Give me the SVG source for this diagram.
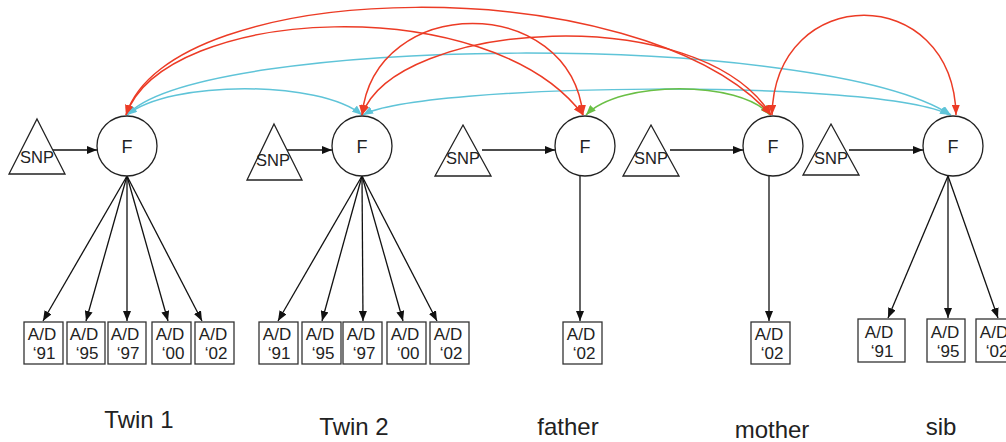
<svg xmlns="http://www.w3.org/2000/svg" width="1006" height="442" viewBox="0 0 1006 442">
<style>
.snp{fill:#fff;stroke:#222;stroke-width:1.3}
.f{fill:#fff;stroke:#222;stroke-width:1.3}
.box{fill:#fff;stroke:#333;stroke-width:1.3}
.t{font-family:"Liberation Sans",Arial,sans-serif;fill:#222;text-anchor:middle}
.ts{font-size:16.5px}
.tf{font-size:18px}
.tb{font-size:17px}
.tl{font-size:24px}
.blk{fill:none;stroke:#111;stroke-width:1.3;marker-end:url(#ab)}
.red{fill:none;stroke:#ec3b25;stroke-width:1.5;marker-start:url(#ar);marker-end:url(#ar)}
.cy{fill:none;stroke:#5fc4d8;stroke-width:1.5;marker-start:url(#ac);marker-end:url(#ac)}
.gr{fill:none;stroke:#6abf45;stroke-width:1.5;marker-start:url(#ag);marker-end:url(#ag)}
</style>
<defs>
<marker id="ab" markerUnits="userSpaceOnUse" markerWidth="10" markerHeight="8" refX="10" refY="4" orient="auto"><path d="M0,0 L10,4 L0,8 z" fill="#111"/></marker>
<marker id="ar" markerUnits="userSpaceOnUse" markerWidth="10" markerHeight="8" refX="10" refY="4" orient="auto-start-reverse"><path d="M0,0 L10,4 L0,8 z" fill="#ec3b25"/></marker>
<marker id="ac" markerUnits="userSpaceOnUse" markerWidth="10" markerHeight="8" refX="10" refY="4" orient="auto-start-reverse"><path d="M0,0 L10,4 L0,8 z" fill="#5fc4d8"/></marker>
<marker id="ag" markerUnits="userSpaceOnUse" markerWidth="10" markerHeight="8" refX="10" refY="4" orient="auto-start-reverse"><path d="M0,0 L10,4 L0,8 z" fill="#6abf45"/></marker>
</defs>
<rect width="1006" height="442" fill="#fff"/>

<g id="connectors">
<path class="blk" d="M52,150 L97,150"/>
<path class="blk" d="M285,150 L332,150"/>
<path class="blk" d="M482,150 L555,150"/>
<path class="blk" d="M670,150 L743,150"/>
<path class="blk" d="M849,150 L923,150"/>
<path class="blk" d="M127,176 L43,321"/>
<path class="blk" d="M127,176 L86,321"/>
<path class="blk" d="M127,176 L127,321"/>
<path class="blk" d="M127,176 L168,321"/>
<path class="blk" d="M127,176 L202,321"/>
<path class="blk" d="M362,176 L278,321"/>
<path class="blk" d="M362,176 L322,321"/>
<path class="blk" d="M362,176 L363,321"/>
<path class="blk" d="M362,176 L403,321"/>
<path class="blk" d="M362,176 L437,321"/>
<path class="blk" d="M580,176 L580,321"/>
<path class="blk" d="M769,176 L769,321"/>
<path class="blk" d="M948,176 L888,318"/>
<path class="blk" d="M948,176 L948,318"/>
<path class="blk" d="M948,176 L998,318"/>
<path class="cy" d="M127,115 C170,80 320,80 362,115"/>
<path class="cy" d="M127,115 C200,35 820,30 951,115"/>
<path class="cy" d="M363,115 C420,83 880,78 950,115"/>
<path class="gr" d="M586,115 C620,80 740,80 770,115"/>
<path class="red" d="M126,115 C170,-25 640,-32 771,115"/>
<path class="red" d="M126,115 C165,5 490,-10 583,115"/>
<path class="red" d="M362,115 C375,-7 570,-7 583,115"/>
<path class="red" d="M362,115 C395,20 700,0 771,115"/>
<path class="red" d="M772,115 C775,-18 953,-18 956,115"/>
</g>

<g id="snp-twin1"><polygon class="snp" points="37,119 65,174 9,174"/><text class="t ts" x="37" y="163">SNP</text></g>
<g id="snp-twin2"><polygon class="snp" points="274,124 302,180 247,180"/><text class="t ts" x="273" y="166">SNP</text></g>
<g id="snp-father"><polygon class="snp" points="463,125 491,176 435,176"/><text class="t ts" x="463" y="164">SNP</text></g>
<g id="snp-mother"><polygon class="snp" points="651,125 679,176 623,176"/><text class="t ts" x="651" y="164">SNP</text></g>
<g id="snp-sib"><polygon class="snp" points="831,124 859,175 803,175"/><text class="t ts" x="831" y="164">SNP</text></g>

<g id="f-twin1"><circle class="f" cx="127" cy="146" r="30"/><text class="t tf" x="127" y="153">F</text></g>
<g id="f-twin2"><circle class="f" cx="362" cy="146" r="30"/><text class="t tf" x="362" y="153">F</text></g>
<g id="f-father"><circle class="f" cx="585" cy="146" r="30"/><text class="t tf" x="585" y="153">F</text></g>
<g id="f-mother"><circle class="f" cx="773" cy="146" r="30"/><text class="t tf" x="773" y="153">F</text></g>
<g id="f-sib"><circle class="f" cx="953" cy="146" r="30"/><text class="t tf" x="953" y="153">F</text></g>

<g id="t1-91"><rect class="box" x="24" y="322" width="39" height="42"/><text class="t tb" x="42" y="340">A/D</text><text class="t tb" x="44" y="359">‘91</text></g>
<g id="t1-95"><rect class="box" x="67" y="322" width="38" height="42"/><text class="t tb" x="84" y="340">A/D</text><text class="t tb" x="87" y="359">‘95</text></g>
<g id="t1-97"><rect class="box" x="108" y="322" width="38" height="42"/><text class="t tb" x="125" y="340">A/D</text><text class="t tb" x="128" y="359">‘97</text></g>
<g id="t1-00"><rect class="box" x="152" y="322" width="39" height="42"/><text class="t tb" x="170" y="340">A/D</text><text class="t tb" x="173" y="359">‘00</text></g>
<g id="t1-02"><rect class="box" x="195" y="322" width="39" height="42"/><text class="t tb" x="213" y="340">A/D</text><text class="t tb" x="216" y="359">‘02</text></g>

<g id="t2-91"><rect class="box" x="259" y="322" width="39" height="42"/><text class="t tb" x="277" y="340">A/D</text><text class="t tb" x="279" y="359">‘91</text></g>
<g id="t2-95"><rect class="box" x="302" y="322" width="39" height="42"/><text class="t tb" x="320" y="340">A/D</text><text class="t tb" x="323" y="359">‘95</text></g>
<g id="t2-97"><rect class="box" x="343" y="322" width="39" height="42"/><text class="t tb" x="361" y="340">A/D</text><text class="t tb" x="364" y="359">‘97</text></g>
<g id="t2-00"><rect class="box" x="387" y="322" width="39" height="42"/><text class="t tb" x="405" y="340">A/D</text><text class="t tb" x="408" y="359">‘00</text></g>
<g id="t2-02"><rect class="box" x="430" y="322" width="39" height="42"/><text class="t tb" x="448" y="340">A/D</text><text class="t tb" x="451" y="359">‘02</text></g>

<g id="father-02"><rect class="box" x="563" y="322" width="39" height="42"/><text class="t tb" x="581" y="340">A/D</text><text class="t tb" x="584" y="359">‘02</text></g>
<g id="mother-02"><rect class="box" x="751" y="322" width="39" height="42"/><text class="t tb" x="769" y="340">A/D</text><text class="t tb" x="772" y="359">‘02</text></g>

<g id="sib-91"><rect class="box" x="858" y="319" width="47" height="43"/><text class="t tb" x="879" y="338">A/D</text><text class="t tb" x="882" y="357">‘91</text></g>
<g id="sib-95"><rect class="box" x="927" y="319" width="38" height="43"/><text class="t tb" x="945" y="338">A/D</text><text class="t tb" x="948" y="357">‘95</text></g>
<g id="sib-02"><rect class="box" x="976" y="319" width="39" height="43"/><text class="t tb" x="994" y="338">A/D</text><text class="t tb" x="997" y="357">‘02</text></g>

<g id="label-twin1"><text class="t tl" x="139" y="428">Twin 1</text></g>
<g id="label-twin2"><text class="t tl" x="354" y="435">Twin 2</text></g>
<g id="label-father"><text class="t tl" x="568" y="435">father</text></g>
<g id="label-mother"><text class="t tl" x="772" y="438">mother</text></g>
<g id="label-sib"><text class="t tl" x="941" y="435">sib</text></g>
</svg>
